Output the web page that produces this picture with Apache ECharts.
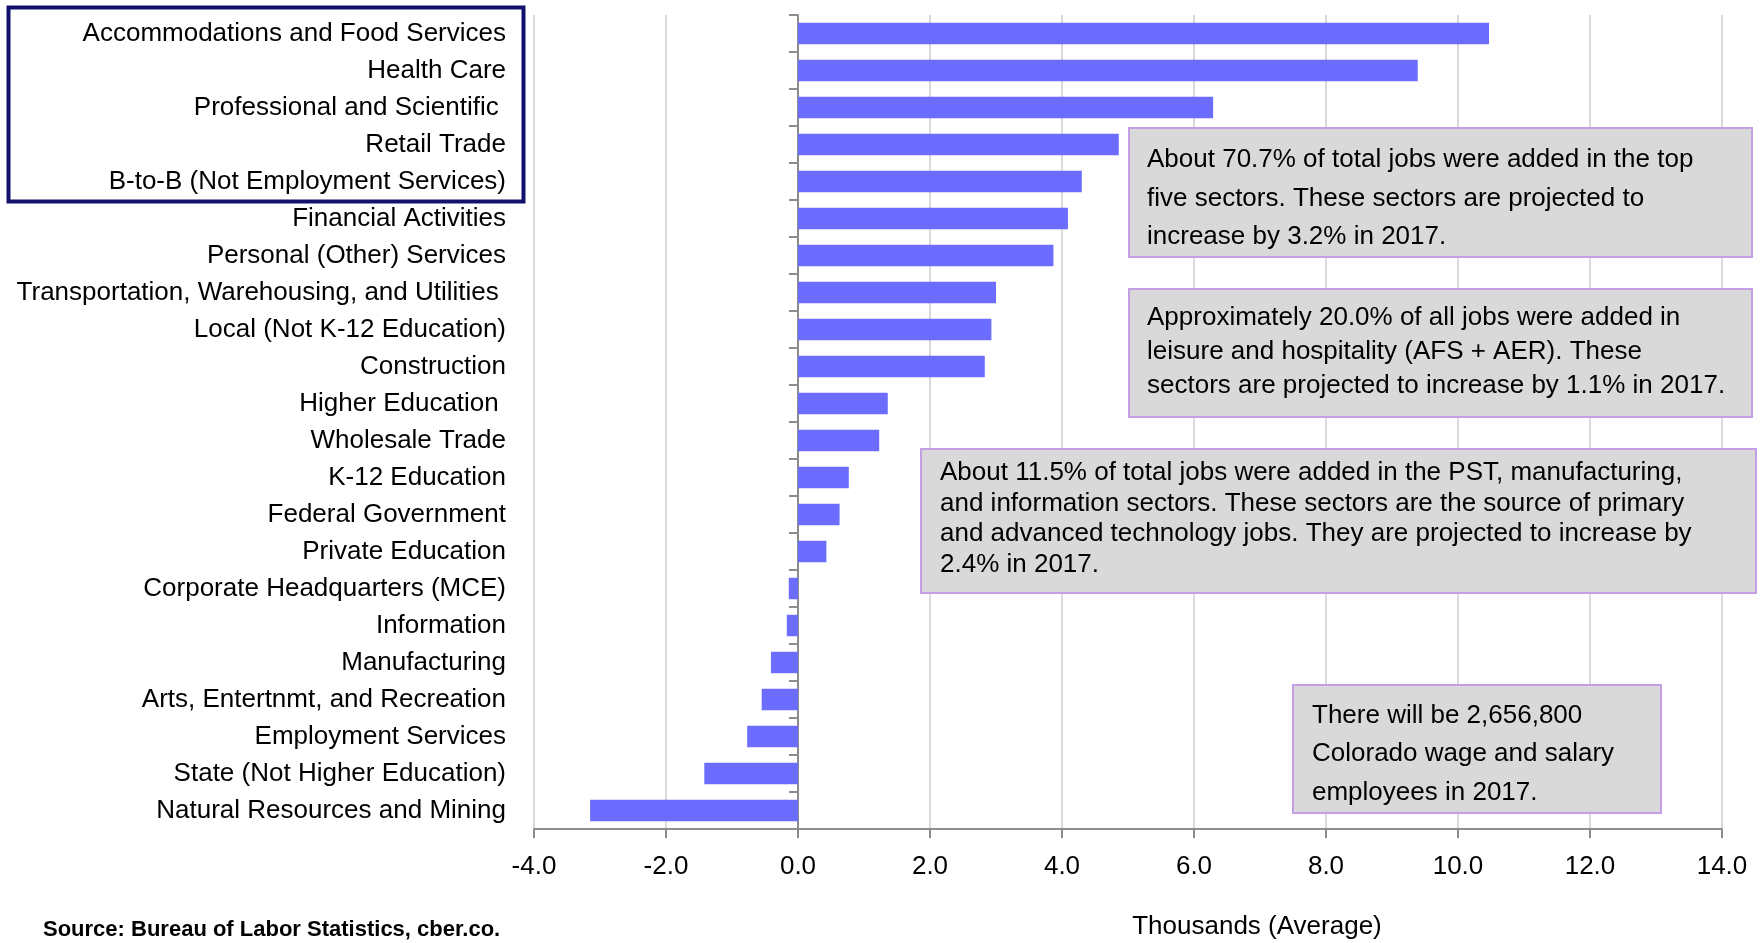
<!DOCTYPE html>
<html>
<head>
<meta charset="utf-8">
<script src="https://cdn.jsdelivr.net/npm/echarts@6/dist/echarts.min.js"></script>
<style>
html,body{margin:0;padding:0;background:#fff;}
#chart{width:1762px;height:943px;}
</style>
</head>
<body>
<div id="chart"></div>
<script>
// ---- data ----
const categories = [
  "Accommodations and Food Services",
  "Health Care",
  "Professional and Scientific ",
  "Retail Trade",
  "B-to-B (Not Employment Services)",
  "Financial Activities",
  "Personal (Other) Services",
  "Transportation, Warehousing, and Utilities ",
  "Local (Not K-12 Education)",
  "Construction",
  "Higher Education ",
  "Wholesale Trade",
  "K-12 Education",
  "Federal Government",
  "Private Education",
  "Corporate Headquarters (MCE)",
  "Information",
  "Manufacturing",
  "Arts, Entertnmt, and Recreation",
  "Employment Services",
  "State (Not Higher Education)",
  "Natural Resources and Mining"
];
const values = [10.47, 9.39, 6.29, 4.86, 4.30, 4.09, 3.87, 3.00, 2.93, 2.83, 1.36, 1.23, 0.77, 0.63, 0.43, -0.14, -0.17, -0.41, -0.55, -0.77, -1.42, -3.15];
const xMin = -4, xMax = 14, xStep = 2;
const axisTitle = "Thousands (Average)";
const sourceText = "Source: Bureau of Labor Statistics, cber.co.";
const notes = [
  ["About 70.7% of total jobs were added in the top", "five sectors. These sectors are projected to", "increase by 3.2% in 2017."],
  ["Approximately 20.0% of all jobs were added in", "leisure and hospitality (AFS + AER). These", "sectors are projected to increase by 1.1% in 2017."],
  ["About 11.5% of total jobs were added in the PST, manufacturing,", "and information sectors. These sectors are the source of primary", "and advanced technology jobs. They are projected to increase by", "2.4% in 2017."],
  ["There will be 2,656,800", "Colorado wage and salary", "employees in 2017."]
];

// ---- layout / style ----
const FONT = '"Liberation Sans", Arial, sans-serif';
const noteBoxes = [
  {x: 1128, y: 127, w: 623, h: 129, tx: 1147, lh: 38.5, fs: 26, dy: 7},
  {x: 1128, y: 288, w: 623, h: 128, tx: 1147, lh: 34, fs: 26, dy: 0},
  {x: 920,  y: 448, w: 835, h: 144, tx: 940,  lh: 30.5, fs: 26, dy: -1},
  {x: 1292, y: 684, w: 368, h: 128, tx: 1312, lh: 38.5, fs: 26, dy: 6}
];

const graphics = [];
notes.forEach((lines, i) => {
  const b = noteBoxes[i];
  graphics.push({
    type: 'rect', left: b.x, top: b.y,
    shape: {width: b.w, height: b.h},
    style: {fill: '#d9d9d9', stroke: '#c3a0e6', lineWidth: 2}, z: 10
  });
  const n = lines.length;
  const midY = b.y + b.h / 2 + b.dy;
  lines.forEach((ln, j) => {
    graphics.push({
      type: 'text', x: b.tx, y: midY + (j - (n - 1) / 2) * b.lh,
      style: {text: ln, font: b.fs + 'px ' + FONT, fill: '#000', textVerticalAlign: 'middle', verticalAlign: 'middle'},
      z: 11
    });
  });
});
// box around the top five sector labels
graphics.push({
  type: 'rect', left: 6, top: 5,
  shape: {width: 515, height: 194},
  style: {fill: 'none', stroke: '#12126e', lineWidth: 4}, z: 10
});
graphics.push({
  type: 'text', x: 1257, y: 927,
  style: {text: axisTitle, font: '26px ' + FONT, fill: '#000', align: 'center', textAlign: 'center', verticalAlign: 'middle', textVerticalAlign: 'middle'}
});
graphics.push({
  type: 'text', x: 43, y: 930,
  style: {text: sourceText, font: 'bold 22px ' + FONT, fill: '#000', verticalAlign: 'middle', textVerticalAlign: 'middle'}
});

const chart = echarts.init(document.getElementById('chart'), null, {renderer: 'canvas'});
chart.setOption({
  animation: false,
  backgroundColor: '#fff',
  textStyle: {fontFamily: FONT},
  grid: {left: 534, right: 40, top: 15, bottom: 114, containLabel: false, outerBoundsMode: 'none'},
  xAxis: {
    type: 'value', min: xMin, max: xMax, interval: xStep,
    axisLine: {show: true, onZero: false, lineStyle: {color: '#8c8c8c', width: 2}},
    axisTick: {show: true, length: 9, lineStyle: {color: '#8c8c8c', width: 2}},
    axisLabel: {fontSize: 26, color: '#000', fontFamily: FONT, margin: 25,
      formatter: v => v.toFixed(1)},
    splitLine: {show: true, lineStyle: {color: '#d9d9d9', width: 2}}
  },
  yAxis: [
    {
      type: 'category', data: categories, inverse: true,
      axisLine: {show: false, onZero: false},
      axisTick: {show: false},
      axisLabel: {fontSize: 26, color: '#000', fontFamily: FONT, margin: 28, interval: 0}
    },
    {
      type: 'category', data: categories, inverse: true, position: 'left',
      axisLine: {show: true, onZero: true, lineStyle: {color: '#8c8c8c', width: 2}},
      axisTick: {show: true, length: 9, lineStyle: {color: '#8c8c8c', width: 2}},
      axisLabel: {show: false},
      splitLine: {show: false}
    }
  ],
  series: [{
    type: 'bar', data: values, yAxisIndex: 0,
    barCategoryGap: '42%',
    itemStyle: {color: '#6c6cff'}
  }],
  graphic: graphics
});
</script>
</body>
</html>
